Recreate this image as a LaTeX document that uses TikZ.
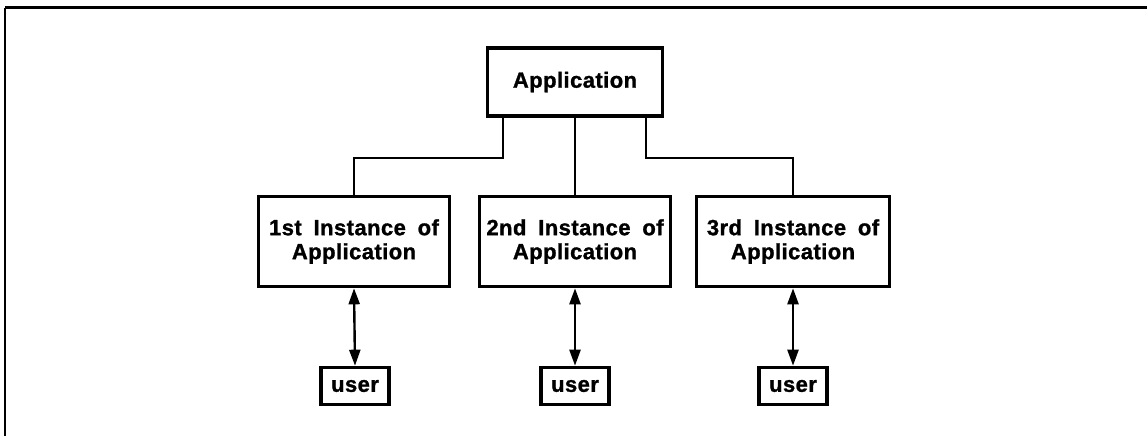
\documentclass[tikz,border=0pt]{standalone}
\usepackage{fontspec}
\setmainfont[LetterSpace=2,WordSpace=1.8,BoldFeatures={FakeBold=1.2}]{Liberation Sans}
\usetikzlibrary{arrows.meta}
\tikzset{
  box/.style={draw, line width=3.6pt, align=center, inner sep=0pt,
              font=\fontsize{22}{24}\selectfont\bfseries},
  link/.style={line width=2.2pt},
  twoway/.style={line width=2.4pt, {Triangle[length=16pt,width=11pt]}-{Triangle[length=16pt,width=11pt]}},
}
\begin{document}
\begin{tikzpicture}[x=1pt,y=-1pt]
  \useasboundingbox (0,0) rectangle (1147,436);
  % frame lines
  \draw[line width=3pt] (5,8) -- (1147,8);
  \draw[line width=2pt] (5,8) -- (5,436);

  % parent
  \node[box, minimum width=175pt, minimum height=68pt] (app) at (575,82) {Application};

  % instances
  \node[box, minimum width=191pt, minimum height=90pt] (i1) at (354,241.5) {1st Instance of\\Application};
  \node[box, minimum width=191pt, minimum height=90pt] (i2) at (575,241.5) {2nd Instance of\\Application};
  \node[box, minimum width=193pt, minimum height=90pt] (i3) at (793,241.5) {3rd Instance of\\Application};

  % users
  \node[box, minimum width=68pt, minimum height=37pt] (u1) at (355,386) {user};
  \node[box, minimum width=68pt, minimum height=37pt] (u2) at (575,386) {user};
  \node[box, minimum width=68pt, minimum height=37pt] (u3) at (793,386) {user};

  % tree connectors
  \draw[link] ([xshift=17pt]app.south west) -- ++(0,40) -| (i1.north);
  \draw[link] (app.south) -- (i2.north);
  \draw[link] ([xshift=-18pt]app.south east) -- ++(0,40) -| (i3.north);

  % instance <-> user
  \draw[twoway] (i1.south) -- (u1.north);
  \draw[twoway] (i2.south) -- (u2.north);
  \draw[twoway] (i3.south) -- (u3.north);
\end{tikzpicture}
\end{document}
